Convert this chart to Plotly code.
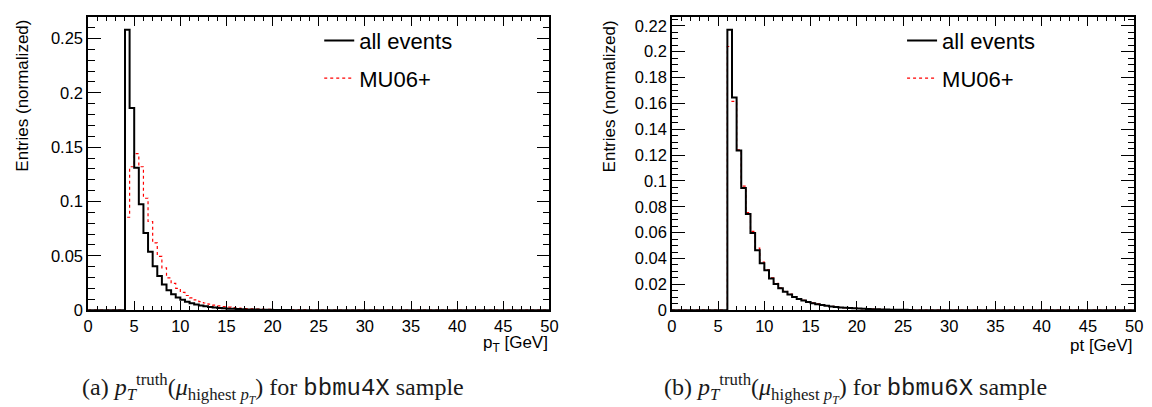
import plotly.graph_objects as go

# ---------------- data ----------------
bin_width = 0.5
x_min, x_max = 0.0, 50.0

# (a) bbmu4X sample: first non-empty bin starts at 4 GeV
a_start = 4.0
a_all = [0.258, 0.186, 0.131, 0.0975, 0.071, 0.0537, 0.0405, 0.0315, 0.0237, 0.0183,
         0.0147, 0.0117, 0.0095, 0.0078, 0.0064, 0.0053, 0.0044, 0.0036, 0.0030, 0.0025,
         0.0021, 0.0017, 0.0014, 0.0012, 0.0010, 0.0008, 0.0007, 0.0006, 0.0005, 0.0004,
         0.0003, 0.0003, 0.0002, 0.0002, 0.0001, 0.0001]
a_mu06 = [0.0855, 0.132, 0.144, 0.132, 0.103, 0.0816, 0.062, 0.0495, 0.039, 0.0297,
          0.0246, 0.020, 0.0163, 0.0135, 0.0113, 0.0094, 0.0078, 0.0066, 0.0055, 0.0046,
          0.0039, 0.0033, 0.0028, 0.0023, 0.0020, 0.0017, 0.0014, 0.0012, 0.0010, 0.0009,
          0.0008, 0.0007, 0.0006, 0.0005, 0.0004, 0.0004, 0.0003, 0.0003, 0.0002, 0.0002]

# (b) bbmu6X sample: first non-empty bin starts at 6 GeV
b_start = 6.0
b_all = [0.217, 0.1645, 0.1236, 0.0946, 0.0744, 0.0598, 0.0464, 0.0363, 0.0308, 0.0245,
         0.0202, 0.0169, 0.0142, 0.0121, 0.0102, 0.0087, 0.0074, 0.0063, 0.0054, 0.0046,
         0.0040, 0.0034, 0.0029, 0.0025, 0.0021, 0.0018, 0.0016, 0.0014, 0.0012, 0.0010,
         0.0009, 0.0008, 0.0007, 0.0006, 0.0005, 0.0004, 0.0004, 0.0003, 0.0003, 0.0002]
b_mu06 = [0.204, 0.1615, 0.124, 0.096, 0.0755, 0.061, 0.048, 0.0372, 0.0314, 0.0251,
          0.0207, 0.0173, 0.0146, 0.0124, 0.0105, 0.0089, 0.0076, 0.0065, 0.0056, 0.0048,
          0.0041, 0.0035, 0.0030, 0.0026, 0.0022, 0.0019, 0.0017, 0.0015, 0.0013, 0.0011,
          0.0010, 0.0008, 0.0007, 0.0006, 0.0005, 0.0005, 0.0004, 0.0003, 0.0003, 0.0002]

series_names = ["all events", "MU06+"]
x_title_a = "p<sub>T</sub> [GeV]"
x_title_b = "pt [GeV]"
y_title = "Entries (normalized)"
caption_a = ("(a) <i>p</i><sub><i>T</i></sub><sup>truth</sup>(<i>μ</i><sub>highest <i>p</i><sub><i>T</i></sub></sub>)"
             " for <span style='font-family:Liberation Mono'>bbmu4X</span> sample")
caption_b = ("(b) <i>p</i><sub><i>T</i></sub><sup>truth</sup>(<i>μ</i><sub>highest <i>p</i><sub><i>T</i></sub></sub>)"
             " for <span style='font-family:Liberation Mono'>bbmu6X</span> sample")

# ---------------- helpers ----------------
n_bins = int(round((x_max - x_min) / bin_width))
edges = [x_min + i * bin_width for i in range(n_bins + 1)]


def full_hist(start, vals):
    counts = [0.0] * n_bins
    i0 = int(round((start - x_min) / bin_width))
    for k, v in enumerate(vals):
        if i0 + k < n_bins:
            counts[i0 + k] = v
    return counts


def step_xy(counts):
    xs = list(edges)
    ys = list(counts) + [counts[-1]]
    return xs, ys


W, H = 1152, 407
def px(x):
    return x / W
def py(y):
    return (H - y) / H

fig = go.Figure()

panels = [
    dict(ax="", all=(a_start, a_all), mu=(a_start, a_mu06), legend="legend"),
    dict(ax="2", all=(b_start, b_all), mu=(b_start, b_mu06), legend="legend2"),
]
for p in panels:
    xs_m, ys_m = step_xy(full_hist(*p["mu"]))
    xs_a, ys_a = step_xy(full_hist(*p["all"]))
    # red drawn first so black sits on top; legend order fixed by legendrank
    fig.add_trace(go.Scatter(x=xs_m, y=ys_m, mode="lines",
                             line=dict(shape="hv", color="red", width=1.2, dash="dot"),
                             name=series_names[1], xaxis="x" + p["ax"], yaxis="y" + p["ax"],
                             legend=p["legend"], legendgroup="g2" + p["ax"], legendrank=2,
                             hoverinfo="skip"))
    fig.add_trace(go.Scatter(x=xs_a, y=ys_a, mode="lines",
                             line=dict(shape="hv", color="black", width=2),
                             name=series_names[0], xaxis="x" + p["ax"], yaxis="y" + p["ax"],
                             legend=p["legend"], legendgroup="g1" + p["ax"], legendrank=1,
                             hoverinfo="skip"))

tickfont = dict(family="Liberation Sans", size=16.5, color="black")
common_x = dict(range=[x_min, x_max], dtick=5, tick0=0, ticks="inside", ticklen=9, tickwidth=1,
                minor=dict(dtick=1, ticks="inside", ticklen=4.5, tickcolor="black"),
                showline=True, linecolor="black", linewidth=1.5, mirror="ticks",
                showgrid=False, zeroline=False, tickfont=tickfont, tickcolor="black")
common_y = dict(ticks="inside", ticklen=13, tickwidth=1,
                showline=True, linecolor="black", linewidth=1.5, mirror="ticks",
                showgrid=False, zeroline=False, tickfont=tickfont, tickcolor="black")

legend_font = dict(family="Liberation Sans", size=22, color="black")
fig.update_layout(
    width=W, height=H, margin=dict(l=0, r=0, t=0, b=0),
    paper_bgcolor="white", plot_bgcolor="white",
    xaxis=dict(domain=[px(76), px(543)], anchor="y", **common_x),
    yaxis=dict(domain=[py(309), py(9)], anchor="x", range=[0, 0.27], dtick=0.05,
               minor=dict(dtick=0.01, ticks="inside", ticklen=7, tickcolor="black"), **common_y),
    xaxis2=dict(domain=[px(667), px(1135)], anchor="y2", **common_x),
    yaxis2=dict(domain=[py(309), py(9)], anchor="x2", range=[0, 0.227], dtick=0.02,
                minor=dict(dtick=0.005, ticks="inside", ticklen=6, tickcolor="black"), **common_y),
    legend=dict(x=px(310), y=py(12), xanchor="left", yanchor="top", bgcolor="rgba(0,0,0,0)",
                font=legend_font, tracegroupgap=6, traceorder="grouped"),
    legend2=dict(x=px(900), y=py(12), xanchor="left", yanchor="top", bgcolor="rgba(0,0,0,0)",
                 font=legend_font, tracegroupgap=6, traceorder="grouped"),
    showlegend=True,
)

ann_font = dict(family="Liberation Sans", size=17, color="black")
cap_font = dict(family="Liberation Serif", size=24, color="#1a1a1a")
annotations = [
    dict(text=y_title, x=px(10), y=py(10), xref="paper", yref="paper", textangle=-90,
         xanchor="center", yanchor="top", showarrow=False, font=ann_font),
    dict(text=y_title, x=px(604), y=py(11), xref="paper", yref="paper", textangle=-90,
         xanchor="center", yanchor="top", showarrow=False, font=ann_font),
    dict(text=x_title_a, x=px(544), y=py(344), xref="paper", yref="paper",
         xanchor="right", yanchor="middle", showarrow=False, font=ann_font),
    dict(text=x_title_b, x=px(1135), y=py(345), xref="paper", yref="paper",
         xanchor="right", yanchor="middle", showarrow=False, font=ann_font),
    dict(text=caption_a, x=px(263), y=py(389), xref="paper", yref="paper",
         xanchor="center", yanchor="middle", showarrow=False, font=cap_font),
    dict(text=caption_b, x=px(853), y=py(389), xref="paper", yref="paper",
         xanchor="center", yanchor="middle", showarrow=False, font=cap_font),
]
fig.update_layout(annotations=annotations)

fig.write_html("out.html")
